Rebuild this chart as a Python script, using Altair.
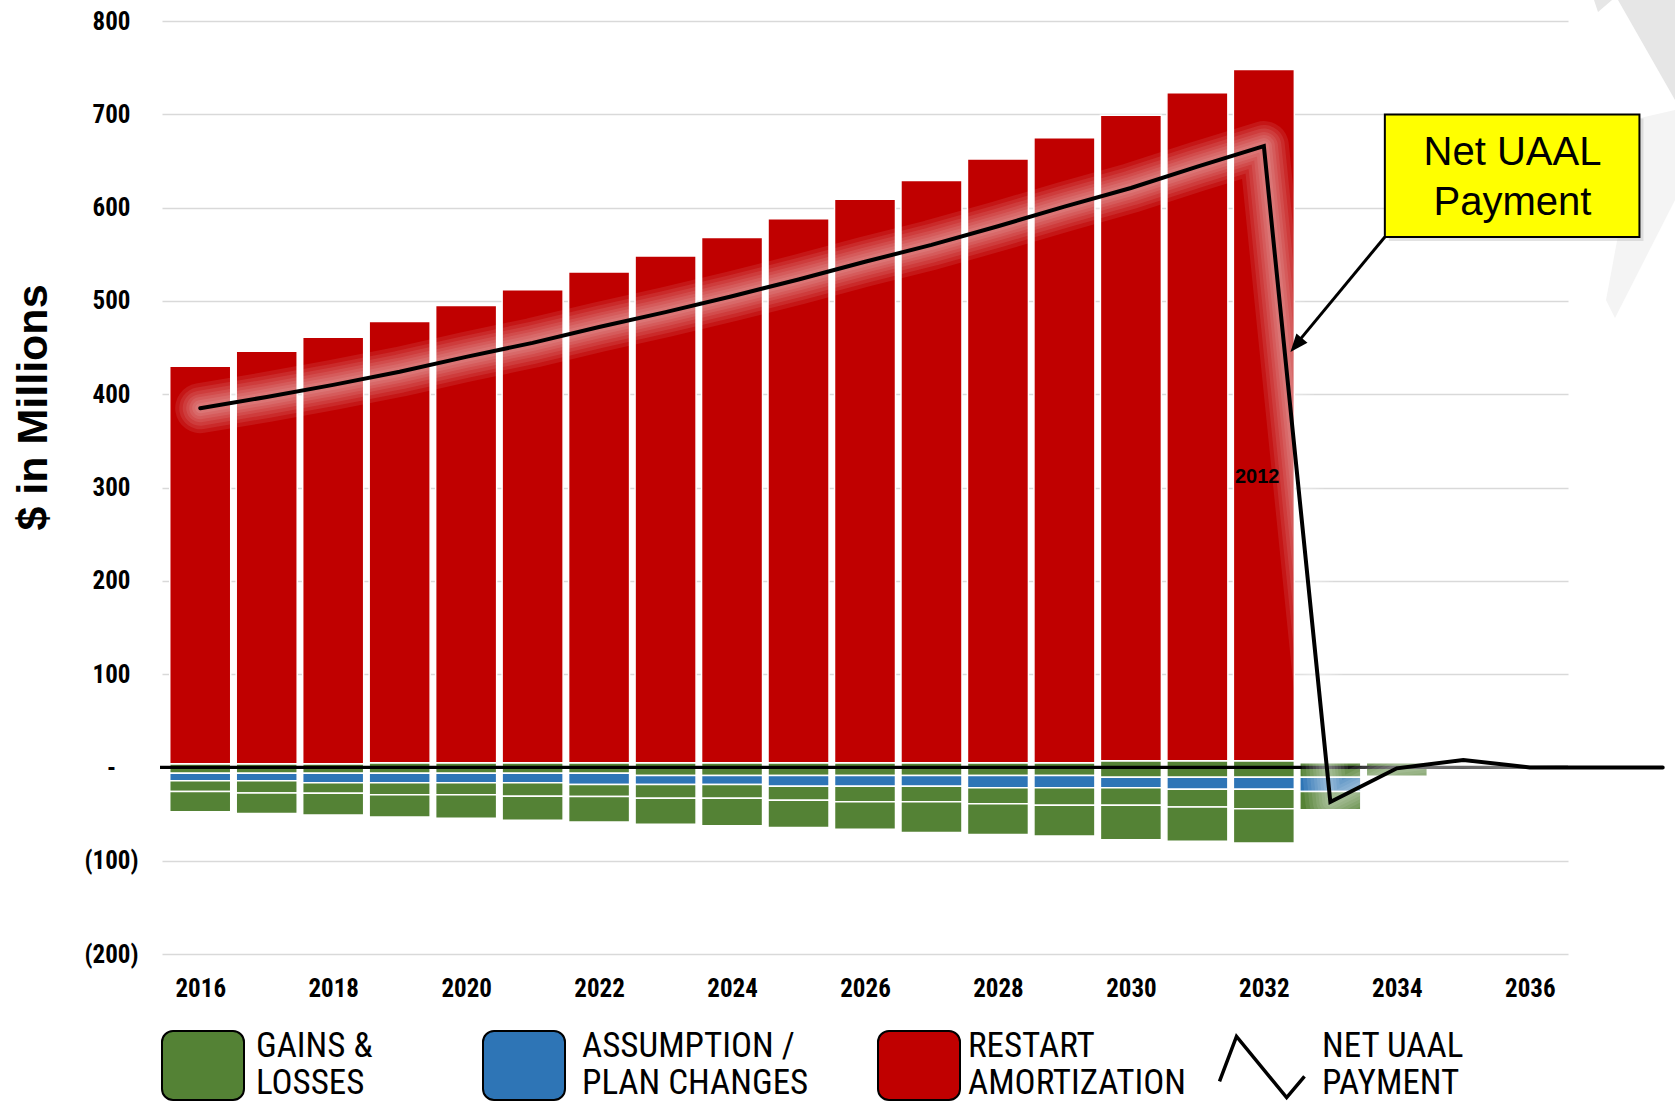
import altair as alt
import pandas as pd

# ---------------- data ----------------
years = list(range(2016, 2035))
gains_pos = [4, 4, 4, 5, 5, 5, 5, 5, 5, 5, 5, 5, 5, 5, 7, 7, 7, 5, 5]
restart = [426, 442, 457, 473, 490, 507, 526, 543, 563, 583, 604, 624, 647, 670,
           692, 716, 741, 0, 0]
gains_1 = [-6.4] * 7 + [-8.8] * 7 + [-10.5] * 4 + [-9.6]
assumption = [-7.9, -7.9, -10, -10, -10, -10, -11.8, -9.5, -9.5, -11.3, -11.3,
              -11.3, -13, -13, -11.3, -13, -13, -15.2, 0]
gains_2 = [-11.4, -13.2, -11.3, -12.9, -12.9, -14.6, -12.9, -14.8, -14.8, -15,
           -16.8, -16.8, -17.1, -18.9, -18.9, -18.9, -20.7, -19.6, 0]
gains_3 = [-21.8, -21.8, -23.4, -23.9, -25.2, -25.7, -27.5, -27.7, -29.5, -29.3,
           -29.3, -32.9, -32.9, -32.9, -36.8, -36.8, -36.8, 0, 0]

line_years = list(range(2016, 2039))
net_uaal = [385, 397, 410, 424, 440, 455, 472, 488, 505, 523, 542, 560, 580, 601,
            621, 644, 666, -37, -1, 8, 0, 0, 0]

x_ticks = list(range(2016, 2037, 2))
y_ticks = list(range(-200, 801, 100))

legend_labels = [["GAINS &", "LOSSES"], ["ASSUMPTION /", "PLAN CHANGES"],
                 ["RESTART", "AMORTIZATION"], ["NET UAAL", "PAYMENT"]]

GREEN, BLUE, RED = "#548235", "#2E75B6", "#C00000"

# ---------------- layout ----------------
W, H = 1406, 933
NARROW = "Liberation Sans Narrow, Roboto Condensed, DejaVu Sans Condensed, sans-serif"
ARIAL = "Liberation Sans, Arial, sans-serif"

series = [("gains_pos", gains_pos, GREEN, 0), ("restart", restart, RED, 1),
          ("gains_1", gains_1, GREEN, 2), ("assumption", assumption, BLUE, 3),
          ("gains_2", gains_2, GREEN, 4), ("gains_3", gains_3, GREEN, 5)]
rows = []
for name, vals, col, o in series:
    for yr, v in zip(years, vals):
        if v != 0:
            rows.append({"year": yr, "value": v, "series": name, "order": o})
bar_df = pd.DataFrame(rows)
line_df = pd.DataFrame({"year": line_years, "net": net_uaal})

xscale = alt.Scale(domain=[2015.5, 2036.5], nice=False, zero=False)
yscale = alt.Scale(domain=[-200, 800], nice=False, zero=False)

yaxis = alt.Axis(
    values=y_ticks, grid=True, gridColor="#D9D9D9", gridWidth=1.5,
    domain=False, ticks=False, tickSize=0, labelPadding=51, labelAlign="center",
    labelFont=NARROW, labelFontSize=25, labelFontWeight="bold", labelColor="black",
    labelExpr="datum.value == 0 ? '-' : (datum.value < 0 ? '(' + format(-datum.value, 'd') + ')' : format(datum.value, 'd'))",
    title="$ in Millions", titleFont=ARIAL, titleFontSize=43, titleFontWeight="bold",
    titleColor="black", titleX=-129, titleY=386, titleAlign="center",
    titleBaseline="middle", titleAngle=270,
)
xaxis = alt.Axis(
    values=x_ticks, format="d", grid=False, domain=False, ticks=False, tickSize=0,
    labelPadding=22, labelFont=NARROW, labelFontSize=25, labelFontWeight="bold",
    labelColor="black", labelFlush=False, title=None,
)


def X(field):
    return alt.X(field, scale=xscale)


def Y(field):
    return alt.Y(field, scale=yscale)


# faint slide decoration in the top-right corner (pixel-sized custom paths)
deco_dark = alt.Chart(pd.DataFrame({"k": [0]})).mark_point(
    shape="M 0 0 L 57 0 L 57 100 Z M -24 0 L -6 0 L -20 12 Z", size=4, filled=True,
    color="#E6E6E6", opacity=1).encode(x=alt.value(1456), y=alt.value(-21))
deco_light = alt.Chart(pd.DataFrame({"k": [0]})).mark_point(
    shape="M 0 0 L 35 -8 L 35 82 L -25 200 L -34 182 Z", size=4, filled=True,
    color="#F4F4F4", opacity=1).encode(x=alt.value(1478), y=alt.value(97))

bars = alt.Chart(bar_df).mark_bar(width=61, stroke="white", strokeWidth=1.5).encode(
    x=alt.X("year:Q", scale=xscale, axis=xaxis),
    y=alt.Y("value:Q", scale=yscale, axis=yaxis, stack="zero"),
    color=alt.Color("series:N", legend=None,
                    scale=alt.Scale(domain=[s[0] for s in series],
                                    range=[s[2] for s in series])),
    order=alt.Order("order:Q"),
)

zero_rule = alt.Chart(pd.DataFrame({"v": [0]})).mark_rule(
    color="black", strokeWidth=3.3).encode(
    y=Y("v:Q"), x=alt.value(-2), x2=alt.value(W))

glow_layers = []
for sw in [50, 42, 35, 28, 22, 16, 10]:
    glow_layers.append(
        alt.Chart(line_df[line_df.year <= 2036]).mark_line(
            color="white", strokeWidth=sw, opacity=0.085, strokeCap="round",
            strokeJoin="round").encode(x=X("year:Q"), y=Y("net:Q")))

net_line = alt.Chart(line_df).mark_line(
    color="black", strokeWidth=4, strokeCap="round", strokeJoin="miter").encode(
    x=X("year:Q"), y=Y("net:Q"))

stray = alt.Chart(pd.DataFrame({"year": [2031.9], "v": [311], "t": ["2012"]})).mark_text(
    font=ARIAL, fontSize=20, fontWeight="bold", color="black", baseline="middle").encode(
    x=X("year:Q"), y=Y("v:Q"), text="t:N")

# callout
box_df = pd.DataFrame({"x": [2033.82], "x2": [2037.65], "y": [699.7], "y2": [568.5]})
shadow = alt.Chart(box_df).mark_rect(fill="#BFBFBF", opacity=0.45, xOffset=4, yOffset=4,
                                     x2Offset=4, y2Offset=4).encode(
    x=X("x:Q"), x2="x2:Q", y=Y("y:Q"), y2="y2:Q")
box = alt.Chart(box_df).mark_rect(fill="#FFFF00", stroke="black", strokeWidth=2).encode(
    x=X("x:Q"), x2="x2:Q", y=Y("y:Q"), y2="y2:Q")
box_text = alt.Chart(pd.DataFrame({"x": [2035.74, 2035.74], "y": [645.3, 591.7],
                                   "t": ["Net UAAL", "Payment"]})).mark_text(
    font=ARIAL, fontSize=40, color="black", align="center", baseline="alphabetic").encode(
    x=X("x:Q"), y=Y("y:Q"), text="t:N")
arrow_df = pd.DataFrame({"x": [2033.82], "y": [568.5], "x2": [2032.45], "y2": [450.5]})
arrow = alt.Chart(arrow_df).mark_rule(color="black", strokeWidth=3).encode(
    x=X("x:Q"), x2="x2:Q", y=Y("y:Q"), y2="y2:Q")
head = alt.Chart(pd.DataFrame({"x": [2032.40], "y": [445.2]})).mark_point(
    shape="M 0 0 L -0.8 -2 L 0.8 -2 Z", size=324, filled=True, color="black",
    opacity=1, angle=39.7).encode(x=X("x:Q"), y=Y("y:Q"))

# legend
legend_layers = []
swatch_x = [0, 321, 716]
swatch_cols = [GREEN, BLUE, RED]
text_x = [94, 420, 806, 1160]
for i in range(3):
    legend_layers.append(
        alt.Chart(pd.DataFrame({"item": [i]})).mark_rect(
            fill=swatch_cols[i], stroke="black", strokeWidth=2, cornerRadius=11).encode(
            x=alt.value(swatch_x[i]), x2=alt.value(swatch_x[i] + 82),
            y=alt.value(1010), y2=alt.value(1079)))
for i, lab in enumerate(legend_labels):
    legend_layers.append(
        alt.Chart(pd.DataFrame({"item": [i]})).mark_text(
            text=lab, lineHeight=37, font=NARROW, fontSize=35, color="black",
            align="left", baseline="alphabetic").encode(
            x=alt.value(text_x[i]), y=alt.value(1036)))
legend_layers.append(
    alt.Chart(pd.DataFrame({"item": [3]})).mark_point(
        shape="M -1 0.34 L -0.6 -0.72 L 0.58 0.72 L 1 0.22", size=7225,
        filled=False, color="black", strokeWidth=3.5, opacity=1).encode(
        x=alt.value(1100), y=alt.value(1046)))

chart = alt.layer(
    deco_dark, deco_light, bars, zero_rule, *glow_layers, net_line, stray, shadow, box,
    box_text, arrow, head, *legend_layers
).properties(
    width=W, height=H,
    autosize=alt.AutoSizeParams(type="none"),
    padding={"left": 162, "top": 21, "right": 107, "bottom": 152},
    background="white",
).configure_view(strokeWidth=0)

chart.save("out.html", embed_options={"renderer": "svg", "actions": False})
